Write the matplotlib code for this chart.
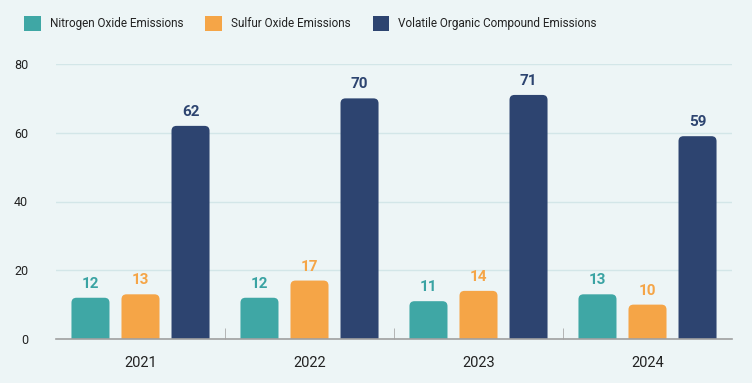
import matplotlib.pyplot as plt
from matplotlib.patches import FancyBboxPatch, Patch
import numpy as np

plt.rcParams['font.family'] = ['Roboto', 'DejaVu Sans']

years = ["2021", "2022", "2023", "2024"]
series_names = ["Nitrogen Oxide Emissions", "Sulfur Oxide Emissions",
                "Volatile Organic Compound Emissions"]
nox = [12, 12, 11, 13]
sox = [13, 17, 14, 10]
voc = [62, 70, 71, 59]
colors = ["#3FA7A5", "#F5A547", "#2D4470"]
label_colors = ["#3AA3A3", "#F5A547", "#2D4470"]
bg = "#EDF5F6"

fig = plt.figure(figsize=(7.52, 3.83), dpi=100, facecolor=bg)
ax = fig.add_axes([56 / 752, 1 - 339 / 383, 676 / 752, 275 / 383], facecolor=bg)

x = np.arange(len(years))
width = 0.225
step = 0.296
ax.set_xlim(-0.5, len(years) - 0.5)
ax.set_ylim(0, 80)

# rounding radius: px -> data units
px_x = 1 / 169.0
px_y = 80 / 275.0
r = 5

for i, (vals, c, lc) in enumerate(zip([nox, sox, voc], colors, label_colors)):
    pos = x + (i - 1) * step
    bars = ax.bar(pos, vals, width, color=c, alpha=0)
    for b, v in zip(bars, vals):
        x0, w = b.get_x(), b.get_width()
        # start below zero so the bottom corners get clipped by the axes
        y0 = -3 * r * px_y
        p = FancyBboxPatch((x0, y0), w, v - y0,
                           boxstyle="round,pad=0,rounding_size=%f" % (r * px_x),
                           mutation_aspect=px_y / px_x, fc=c, ec="none")
        ax.add_patch(p)
        ax.annotate(str(v), (b.get_x() + w / 2, v), xytext=(0, 5),
                    textcoords="offset points", ha="center", va="bottom",
                    fontsize=11, fontweight="bold", color=lc)

ax.set_yticks([0, 20, 40, 60, 80])
ax.tick_params(axis="y", length=0, labelsize=9, colors="#222222", pad=20)
ax.set_xticks(x)
ax.set_xticklabels(years)
ax.tick_params(axis="x", length=0, labelsize=10.5, colors="#222222", pad=12)
ax.set_xticks([0.5, 1.5, 2.5], minor=True)
ax.tick_params(axis="x", which="minor", length=8, direction="in", color="#AAAAAA")
ax.grid(axis="y", color="#D3E6E8", linewidth=1)
ax.set_axisbelow(True)
for s in ["top", "right", "left"]:
    ax.spines[s].set_visible(False)
ax.spines["bottom"].set_color("#A0A0A0")
ax.spines["bottom"].set_linewidth(1.2)
ax.spines["bottom"].set_zorder(5)

handles = [Patch(facecolor=c, edgecolor="none") for c in colors]
fig.legend(handles, series_names, loc="upper left", bbox_to_anchor=(0.018, 0.985),
           ncol=3, frameon=False, fontsize=8.5, handlelength=1.4, handleheight=1.5,
           columnspacing=1.9, handletextpad=0.75, labelcolor="#222222")

fig.savefig("out.png", dpi=100, facecolor=bg)
